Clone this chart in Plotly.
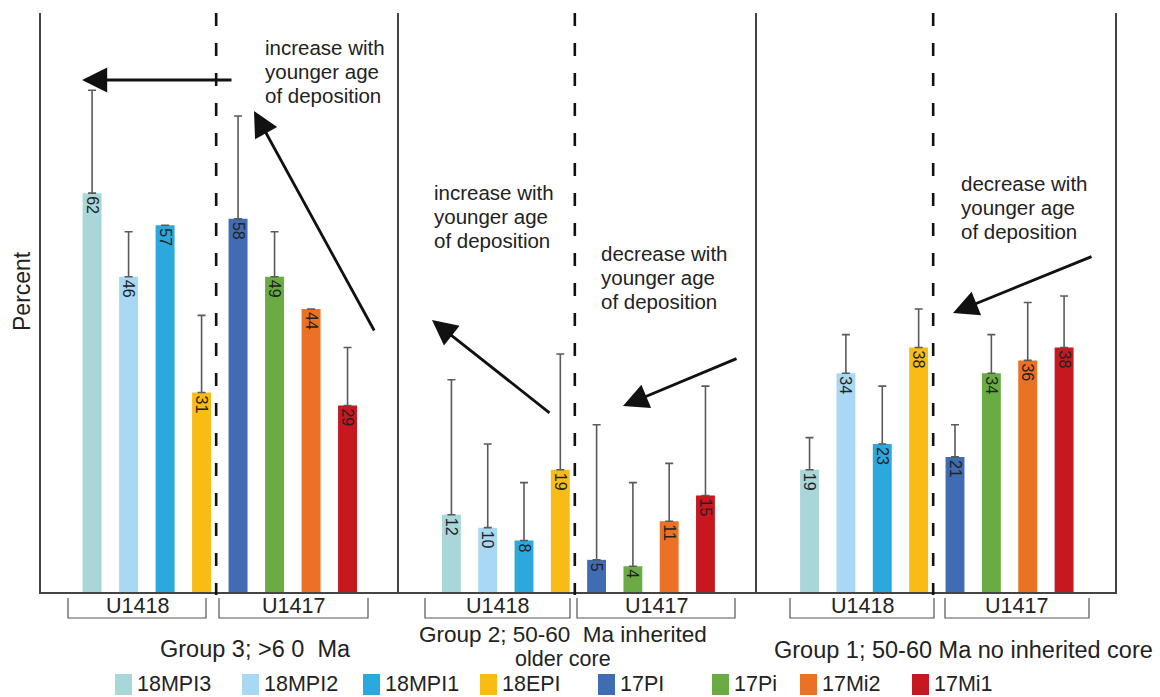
import plotly.graph_objects as go

W, H = 1160, 697
FONT = "Liberation Sans, Arial, sans-serif"

# ---------------- data ----------------
series = ["18MPI3", "18MPI2", "18MPI1", "18EPI", "17PI", "17Pi", "17Mi2", "17Mi1"]
colors = ["#a9d6d8", "#a8d8f3", "#2ba8dd", "#f8bc14", "#3f6cb2", "#6aab44", "#eb7124", "#c7171f"]

# Group 3; >60 Ma (bar heights as drawn, labels as printed)
g3_values = [62, 49, 57, 31, 58, 49, 44, 29]
g3_labels = ["62", "46", "57", "31", "58", "49", "44", "29"]
g3_err = [16, 7, 0, 12, 16, 7, 0, 9]
# Group 2; 50-60 Ma inherited older core
g2_values = [12, 10, 8, 19, 5, 4, 11, 15]
g2_labels = ["12", "10", "8", "19", "5", "4", "11", "15"]
g2_err = [21, 13, 9, 18, 21, 13, 9, 17]
# Group 1; 50-60 Ma no inherited core
g1_values = [19, 34, 23, 38, 21, 34, 36, 38]
g1_labels = ["19", "34", "23", "38", "21", "34", "36", "38"]
g1_err = [5, 6, 9, 6, 5, 6, 9, 8]

group_title_lines = [["Group 3; >6 0\u00a0\u00a0Ma"],
                     ["Group 2; 50-60\u00a0\u00a0Ma inherited", "older core"],
                     ["Group 1; 50-60 Ma no inherited core"]]
site_labels = ["U1418", "U1417"]
arrow_texts = ["increase with", "younger age", "of deposition"]


def px(x):
    return x / W


def py(y):
    return 1 - y / H


panels = [
    (g3_values, g3_labels, g3_err),
    (g2_values, g2_labels, g2_err),
    (g1_values, g1_labels, g1_err),
]
# panel layout in pixels
panel_edges = [(41, 399), (399, 757), (757, 1115)]
x_ranges = [[-1.40, 8.41], [-1.445, 8.42], [-1.445, 8.40]]
y_top, y_base = 13, 592

fig = go.Figure()
for i, (vals, labs, errs) in enumerate(panels):
    sfx = "" if i == 0 else str(i + 1)
    fig.add_trace(go.Bar(
        x=series, y=vals, text=labs,
        marker=dict(color=colors, line=dict(width=0)),
        width=0.52,
        textposition="inside", insidetextanchor="end", textangle=90,
        constraintext="none",
        textfont=dict(family=FONT, size=16, color="#222222"),
        error_y=dict(type="data", symmetric=False, array=errs,
                     arrayminus=[0] * len(errs), color="#5a5a5a",
                     thickness=1.6, width=4),
        xaxis="x" + sfx, yaxis="y" + sfx, showlegend=False,
    ))

layout = dict(
    width=W, height=H, margin=dict(l=0, r=0, t=0, b=0),
    paper_bgcolor="white", plot_bgcolor="white",
    font=dict(family=FONT, color="#222222"),
)
ydom = [py(y_base), py(y_top)]
for i, (x0, x1) in enumerate(panel_edges):
    sfx = "" if i == 0 else str(i + 1)
    layout["xaxis" + sfx] = dict(
        domain=[px(x0), px(x1)], range=x_ranges[i], anchor="y" + sfx,
        showticklabels=False, ticks="", showgrid=False, zeroline=False,
        showline=True, linecolor="#444444", linewidth=1.5, type="category",
    )
    layout["yaxis" + sfx] = dict(
        domain=ydom, range=[0, 90], anchor="x" + sfx,
        showticklabels=False, ticks="", showgrid=False, zeroline=False,
        showline=True, mirror=(i == 2), linecolor="#444444", linewidth=1.5,
    )
fig.update_layout(**layout)

shapes = []
annotations = []

# dashed separators between U1418 and U1417
for i in range(3):
    sfx = "" if i == 0 else str(i + 1)
    shapes.append(dict(type="line", xref="x" + sfx, yref="paper",
                       x0=3.4, x1=3.4, y0=py(y_top), y1=py(y_base + 3),
                       line=dict(color="#111111", width=2.6, dash="13px,17px")))

# site brackets below the panels
brackets = [(68, 206), (219, 368), (425, 570), (577, 735), (790, 934), (945, 1089)]
for j, (bx0, bx1) in enumerate(brackets):
    shapes.append(dict(type="path", xref="paper", yref="paper",
                       path=f"M {px(bx0)},{py(598)} L {px(bx0)},{py(618)} L {px(bx1)},{py(618)} L {px(bx1)},{py(598)}",
                       line=dict(color="#555555", width=1.2)))
    annotations.append(dict(x=px((bx0 + bx1) / 2), y=py(606), xref="paper", yref="paper",
                            text=site_labels[j % 2], showarrow=False,
                            font=dict(size=21.5, family=FONT, color="#222222"),
                            xanchor="center", yanchor="middle"))

# group titles (x centre, y centre of each line, font size of each line)
title_pos = [(255, [649], [23.5]), (563, [634, 659], [22.5, 21.5]), (963, [650], [23.5])]
for lines, (tx, tys, fss) in zip(group_title_lines, title_pos):
    for ln, ty, fs in zip(lines, tys, fss):
        annotations.append(dict(x=px(tx), y=py(ty), xref="paper", yref="paper", text=ln,
                                showarrow=False, font=dict(size=fs, family=FONT, color="#222222"),
                                xanchor="center", yanchor="middle"))

# y label
annotations.append(dict(x=px(22), y=py(291), xref="paper", yref="paper", text="Percent",
                        textangle=-90, showarrow=False,
                        font=dict(size=23, family=FONT, color="#222222"),
                        xanchor="center", yanchor="middle"))

# trend text blocks
blocks = [(263, 48, "increase with"), (432, 193, "increase with"),
          (599, 253, "decrease with"), (959, 183, "decrease with")]
for bx, by, first in blocks:
    lines = [first] + arrow_texts[1:]
    for k, ln in enumerate(lines):
        annotations.append(dict(x=px(bx), y=py(by + 24 * k), xref="paper", yref="paper",
                                text=ln, showarrow=False,
                                font=dict(size=20.5, family=FONT, color="#222222"),
                                xanchor="left", yanchor="middle"))

# arrows (tail -> tip, pixels)
arrows = [((233, 80), (82, 80)), ((375, 332), (254, 111)),
          ((551, 414), (432, 320)), ((738, 358), (623, 406)),
          ((1093, 256), (953, 313))]
for (tx, ty), (hx, hy) in arrows:
    annotations.append(dict(x=px(hx), y=py(hy), xref="paper", yref="paper",
                            ax=tx - hx, ay=ty - hy, axref="pixel", ayref="pixel",
                            text="", showarrow=True, arrowhead=2, arrowsize=1.8,
                            arrowwidth=2.8, arrowcolor="#111111", standoff=0))

# manual legend
legend_marker_x = [115, 242, 363, 480, 598, 712, 800, 912]
for name, col, mx in zip(series, colors, legend_marker_x):
    shapes.append(dict(type="rect", xref="paper", yref="paper",
                       x0=px(mx), x1=px(mx + 17), y0=py(695), y1=py(674),
                       fillcolor=col, line=dict(width=0)))
    annotations.append(dict(x=px(mx + 20), y=py(684), xref="paper", yref="paper",
                            text=name, showarrow=False,
                            font=dict(size=21.5, family=FONT, color="#222222"),
                            xanchor="left", yanchor="middle"))

fig.update_layout(shapes=shapes, annotations=annotations)
fig.write_html("out.html")
